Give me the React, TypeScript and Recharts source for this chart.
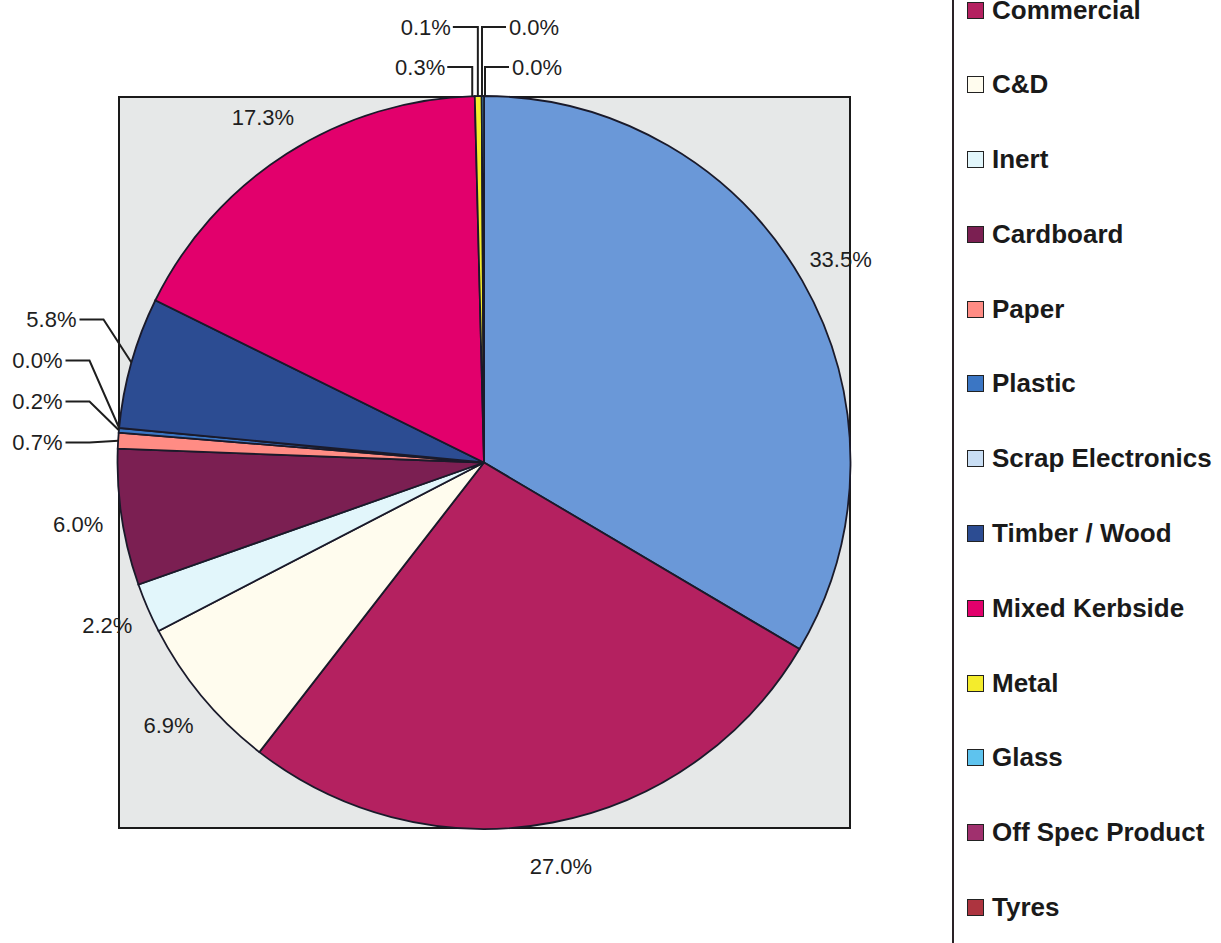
import React from 'react';
import { PieChart, Pie, Cell, Legend } from 'recharts';

// Share of total tonnage by waste stream (%), clockwise from 12 o'clock
const CATEGORIES = [
  'Household',
  'Commercial',
  'C&D',
  'Inert',
  'Cardboard',
  'Paper',
  'Plastic',
  'Scrap Electronics',
  'Timber / Wood',
  'Mixed Kerbside',
  'Metal',
  'Glass',
  'Off Spec Product',
  'Tyres',
];
const SHARES = [33.5, 27.0, 6.9, 2.2, 6.0, 0.7, 0.2, 0.0, 5.8, 17.3, 0.3, 0.1, 0.0, 0.0];
const COLORS = [
  '#6a98d8',
  '#b42160',
  '#fffcee',
  '#e2f6fb',
  '#7b1f52',
  '#ff8c84',
  '#3b76c4',
  '#c9def4',
  '#2c4c92',
  '#e2006c',
  '#f4ec2c',
  '#5ec3ee',
  '#a0306e',
  '#ad343f',
];

const W = 1221;
const H = 943;
const CX = 484;
const CY = 462.5;
const R = 366.5;
const ROW = 74.8;
const LEGEND_TOP = 10 - ROW * 1.5; // first entry sits above the page edge

const RAD = Math.PI / 180;
const polar = (cx: number, cy: number, r: number, angle: number) => ({
  x: cx + r * Math.cos(-angle * RAD),
  y: cy + r * Math.sin(-angle * RAD),
});

// crowded slices get their label pulled aside on an elbow leader line
type Callout = { group: 'top' | 'side'; side?: 'left' | 'right'; row: number; nudge?: number; pad?: number };
const CALLOUTS: Record<string, Callout> = {
  Metal: { group: 'top', side: 'left', row: 0, nudge: -6 },
  Glass: { group: 'top', side: 'left', row: 1, nudge: -5 },
  'Off Spec Product': { group: 'top', side: 'right', row: 0, nudge: 1 },
  Tyres: { group: 'top', side: 'right', row: 1, nudge: -2 },
  Paper: { group: 'side', row: 0, pad: 55 },
  Plastic: { group: 'side', row: 1, pad: 55 },
  'Scrap Electronics': { group: 'side', row: 2, pad: 55 },
  'Timber / Wood': { group: 'side', row: 3, pad: 41 },
};

const textStyle = { fontFamily: 'Arial, "Liberation Sans", sans-serif', fontSize: 22, fill: '#1e1e1e' };
const leader = { fill: 'none', stroke: '#1e1e1e', strokeWidth: 2 };

const renderLabel = (props: any) => {
  const { cx, cy, midAngle, outerRadius, index, value } = props;
  const name = CATEGORIES[index];
  const text = `${Number(value).toFixed(1)}%`;
  const c = CALLOUTS[name];

  if (!c) {
    const p = polar(cx, cy, outerRadius + 44, midAngle);
    return (
      <text key={name} x={p.x} y={p.y} dy="0.36em" textAnchor="middle" {...textStyle}>
        {text}
      </text>
    );
  }

  const a = polar(cx, cy, outerRadius, midAngle);
  if (c.group === 'top') {
    const vx = a.x + (c.nudge ?? 0);
    const ly = cy - outerRadius - 29 - 40 * c.row;
    const left = c.side === 'left';
    const hx = left ? vx - 25 : vx + 24;
    const tx = left ? vx - 27 : vx + 27;
    return (
      <g key={name}>
        <path d={`M${vx},${a.y} V${ly} H${hx}`} {...leader} />
        <text x={tx} y={ly} dy="0.36em" textAnchor={left ? 'end' : 'start'} {...textStyle}>
          {text}
        </text>
      </g>
    );
  }

  const ly = cy - 20 - 41 * c.row;
  const textEnd = cx - outerRadius - (c.pad ?? 55);
  return (
    <g key={name}>
      <path d={`M${textEnd + 3},${ly} H${textEnd + 27} L${a.x},${a.y}`} {...leader} />
      <text x={textEnd} y={ly} dy="0.36em" textAnchor="end" {...textStyle}>
        {text}
      </text>
    </g>
  );
};

const LegendBox = () => (
  <div
    style={{
      borderLeft: '2px solid #2a2226',
      height: ROW * CATEGORIES.length,
      fontFamily: 'Arial, "Liberation Sans", sans-serif',
      fontWeight: 'bold',
      fontSize: 26,
      color: '#1a1a1a',
    }}
  >
    {CATEGORIES.map((name, i) => (
      <div key={name} style={{ height: ROW, display: 'flex', alignItems: 'center', paddingLeft: 13 }}>
        <span
          style={{
            width: 17,
            height: 17,
            boxSizing: 'border-box',
            border: '1.5px solid #222',
            background: COLORS[i],
            marginRight: 8,
            flex: 'none',
          }}
        />
        <span style={{ whiteSpace: 'nowrap' }}>{name}</span>
      </div>
    ))}
  </div>
);

export default function App() {
  const data = CATEGORIES.map((name, i) => ({ name, value: SHARES[i] }));

  return (
    <div style={{ position: 'absolute', left: 0, top: 0, width: W, height: H, overflow: 'hidden', background: '#fff' }}>
      {/* plot area behind the pie */}
      <div
        style={{
          position: 'absolute',
          left: CX - R,
          top: CY - R,
          width: 2 * R,
          height: 2 * R,
          boxSizing: 'border-box',
          border: '2px solid #1a1a1a',
          background: '#e6e8e8',
        }}
      />
      <div style={{ position: 'absolute', left: 0, top: 0 }}>
        <PieChart width={W} height={H} margin={{ top: 0, right: 0, bottom: 0, left: 0 }}>
          <Pie
            data={data}
            dataKey="value"
            nameKey="name"
            cx={CX}
            cy={CY}
            outerRadius={R}
            startAngle={90}
            endAngle={-270}
            stroke="#1a1a2a"
            strokeWidth={1.8}
            labelLine={false}
            label={renderLabel}
            isAnimationActive={false}
          >
            {data.map((d, i) => (
              <Cell key={d.name} fill={COLORS[i]} />
            ))}
          </Pie>
          <Legend content={() => <LegendBox />} wrapperStyle={{ left: 952, top: LEGEND_TOP, width: 269 }} />
        </PieChart>
      </div>
    </div>
  );
}
